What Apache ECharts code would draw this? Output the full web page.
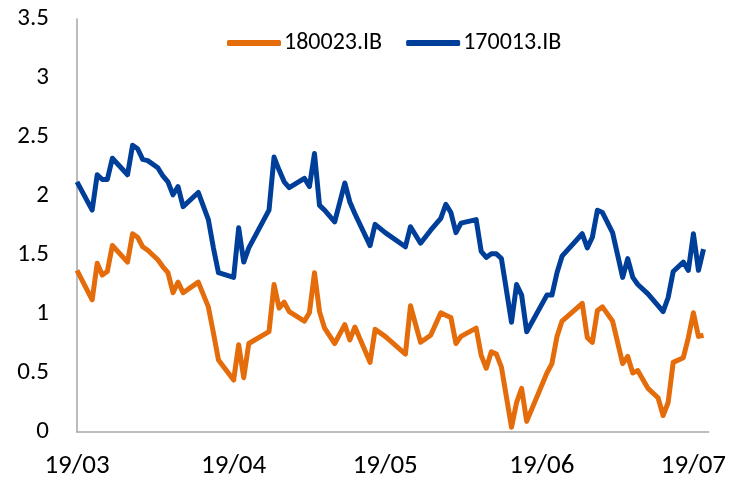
<!DOCTYPE html>
<html>
<head>
<meta charset="utf-8">
<script src="https://cdn.jsdelivr.net/npm/echarts@6/dist/echarts.min.js"></script>
<style>
html,body{margin:0;padding:0;background:#fff;}
#chart{width:729px;height:483px;}
</style>
</head>
<body>
<div id="chart"></div>
<script>
// Trading dates
var dates = [
  '2019-03-01','2019-03-04','2019-03-05','2019-03-06','2019-03-07','2019-03-08',
  '2019-03-11','2019-03-12','2019-03-13','2019-03-14','2019-03-15',
  '2019-03-17','2019-03-18','2019-03-19','2019-03-20','2019-03-21','2019-03-22',
  '2019-03-25','2019-03-27','2019-03-28','2019-03-29',
  '2019-04-01','2019-04-02','2019-04-03','2019-04-04',
  '2019-04-08','2019-04-09','2019-04-10','2019-04-11','2019-04-12',
  '2019-04-15','2019-04-16','2019-04-17','2019-04-18','2019-04-19',
  '2019-04-21','2019-04-23','2019-04-24','2019-04-25',
  '2019-04-28','2019-04-29',
  '2019-05-01','2019-05-05','2019-05-06','2019-05-08','2019-05-10',
  '2019-05-12','2019-05-13','2019-05-14','2019-05-15','2019-05-16',
  '2019-05-19','2019-05-20','2019-05-21','2019-05-22','2019-05-23','2019-05-24',
  '2019-05-26','2019-05-27','2019-05-28','2019-05-29',
  '2019-06-02','2019-06-03','2019-06-04','2019-06-05',
  '2019-06-09','2019-06-10','2019-06-11','2019-06-12','2019-06-13',
  '2019-06-15','2019-06-17','2019-06-18','2019-06-19','2019-06-20',
  '2019-06-22','2019-06-24','2019-06-25','2019-06-26','2019-06-27',
  '2019-06-29','2019-06-30','2019-07-01','2019-07-02','2019-07-03'
];
var seriesNames = ['180023.IB', '170013.IB'];
var s180023 = [
  1.37,1.12,1.43,1.33,1.36,1.58,
  1.44,1.68,1.65,1.57,1.54,
  1.46,1.40,1.35,1.18,1.27,1.18,
  1.27,1.06,0.84,0.61,
  0.44,0.74,0.46,0.75,
  0.85,1.25,1.05,1.10,1.02,
  0.94,1.01,1.35,1.02,0.88,
  0.75,0.91,0.78,0.89,
  0.59,0.87,
  0.81,0.66,1.07,0.76,0.82,
  1.01,0.99,0.97,0.75,0.81,
  0.88,0.65,0.54,0.68,0.66,0.55,
  0.04,0.25,0.37,0.09,
  0.50,0.58,0.81,0.94,
  1.09,0.80,0.76,1.03,1.06,
  0.94,0.58,0.64,0.50,0.52,
  0.37,0.29,0.14,0.25,0.59,
  0.63,0.80,1.01,0.81,0.82
];
var s170013 = [
  2.12,1.88,2.18,2.14,2.14,2.32,
  2.18,2.43,2.40,2.31,2.30,
  2.24,2.17,2.12,2.01,2.08,1.91,
  2.03,1.80,1.56,1.35,
  1.31,1.73,1.44,1.56,
  1.88,2.33,2.22,2.12,2.07,
  2.15,2.08,2.36,1.92,1.88,
  1.78,2.11,1.95,1.85,
  1.58,1.76,
  1.69,1.57,1.74,1.60,1.71,
  1.81,1.93,1.86,1.69,1.77,
  1.80,1.53,1.48,1.51,1.51,1.47,
  0.93,1.25,1.16,0.85,
  1.16,1.16,1.35,1.49,
  1.68,1.56,1.65,1.88,1.86,
  1.69,1.31,1.47,1.31,1.25,
  1.17,1.07,1.02,1.14,1.36,
  1.44,1.37,1.68,1.37,1.55
];
var axisStart = '2019-03-01', axisEnd = '2019-07-04';
var yTicks = [0, 0.5, 1, 1.5, 2, 2.5, 3, 3.5];

// calendar-day categories for the x axis
function pad(n){return n<10?'0'+n:''+n;}
var categories = [];
(function(){
  var d = new Date(axisStart + 'T00:00:00Z'), e = new Date(axisEnd + 'T00:00:00Z');
  while (d <= e) {
    categories.push(d.getUTCFullYear() + '-' + pad(d.getUTCMonth()+1) + '-' + pad(d.getUTCDate()));
    d.setUTCDate(d.getUTCDate()+1);
  }
})();

var FONT = 'Carlito, Lato, sans-serif';
var chart = echarts.init(document.getElementById('chart'), null, {renderer:'canvas'});
chart.setOption({
  animation: false,
  backgroundColor: '#ffffff',
  color: ['#E46C0A', '#003F99'],
  legend: {
    top: 26,
    left: 222,
    itemWidth: 54,
    itemHeight: 6,
    itemGap: 24,
    icon: 'roundRect',
    textStyle: {fontFamily: FONT, fontSize: 24, color: '#000', padding: [0,0,0,-2]},
    data: seriesNames
  },
  grid: {left: 77, right: 14, top: 19, bottom: 51, containLabel: false},
  xAxis: {
    type: 'category',
    data: categories,
    boundaryGap: false,
    axisLine: {show: true, lineStyle: {color: '#A6A6A6', width: 1.5}},
    axisTick: {show: false},
    splitLine: {show: false},
    axisLabel: {
      interval: function(i, v){ return v.slice(8) === '01'; },
      formatter: function(v){ return v.slice(2,4) + '/' + v.slice(5,7); },
      fontFamily: FONT, fontSize: 27, color: '#000', margin: 21
    }
  },
  yAxis: {
    type: 'value',
    min: yTicks[0], max: yTicks[yTicks.length-1], interval: 0.5,
    axisLine: {show: true, lineStyle: {color: '#A6A6A6', width: 1.5}},
    axisTick: {show: false},
    splitLine: {show: false},
    axisLabel: {fontFamily: FONT, fontSize: 25, color: '#000', margin: 28}
  },
  series: [
    {
      name: seriesNames[0], type: 'line', showSymbol: false, symbol: 'none',
      lineStyle: {width: 5, color: '#E46C0A', join: 'round'},
      data: dates.map(function(d,i){ return [d, s180023[i]]; })
    },
    {
      name: seriesNames[1], type: 'line', showSymbol: false, symbol: 'none',
      lineStyle: {width: 5, color: '#003F99', join: 'round'},
      data: dates.map(function(d,i){ return [d, s170013[i]]; })
    }
  ]
});
</script>
</body>
</html>
